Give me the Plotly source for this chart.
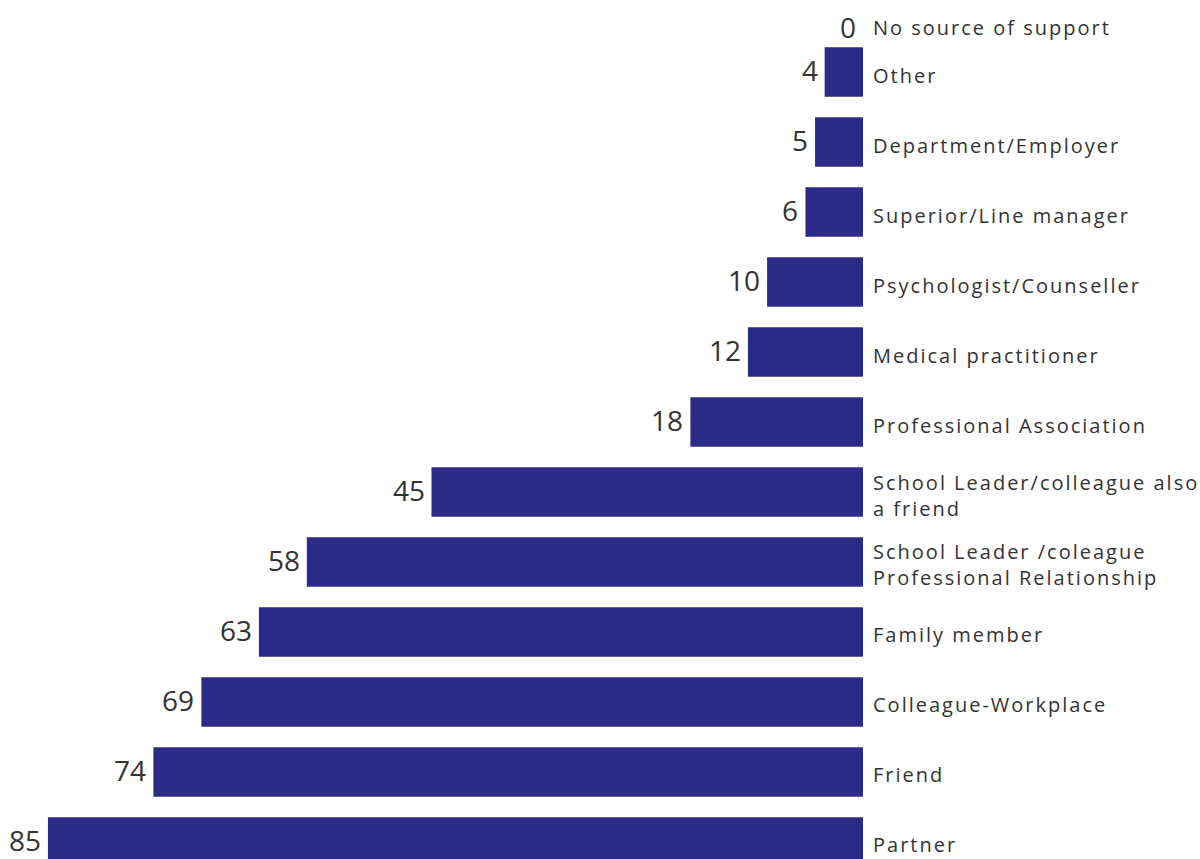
import plotly.graph_objects as go

categories = [
    "No source of support",
    "Other",
    "Department/Employer",
    "Superior/Line manager",
    "Psychologist/Counseller",
    "Medical practitioner",
    "Professional Association",
    "School Leader/colleague also<br>a friend",
    "School Leader /coleague<br>Professional Relationship",
    "Family member",
    "Colleague-Workplace",
    "Friend",
    "Partner",
]
values = [0, 4, 5, 6, 10, 12, 18, 45, 58, 63, 69, 74, 85]

BAR = "#2B2A86"
TXT = "#333333"
FONT = "Open Sans"

fig = go.Figure()
fig.add_trace(go.Bar(
    x=values, y=categories, orientation="h",
    marker=dict(color=BAR, line=dict(width=0)),
    width=0.71, hoverinfo="skip", cliponaxis=False,
))

annotations = []
for i, (c, v) in enumerate(zip(categories, values)):
    ys = -25 if i == 0 else -3
    spaced = "<br>".join('<span style="letter-spacing:2px">' + part + "</span>"
                         for part in c.split("<br>"))
    annotations.append(dict(
        x=0, y=c, xref="x", yref="y", text=spaced, showarrow=False,
        xanchor="left", yanchor="middle", align="left", xshift=8, yshift=ys,
        font=dict(family=FONT, size=20, color=TXT),
    ))
    annotations.append(dict(
        x=v, y=c, xref="x", yref="y", text=str(v), showarrow=False,
        xanchor="right", yanchor="middle", xshift=-5, yshift=(-25 if i == 0 else 2),
        font=dict(family=FONT, size=28, color=TXT),
    ))

fig.update_layout(
    width=1200, height=859,
    margin=dict(l=0, r=337, t=0, b=0),
    paper_bgcolor="white", plot_bgcolor="white",
    showlegend=False,
    annotations=annotations,
    xaxis=dict(range=[90, 0], visible=False, fixedrange=True),
    yaxis=dict(categoryorder="array", categoryarray=categories,
               range=[12.243, -0.0286], visible=False, fixedrange=True),
)

html = fig.to_html(full_html=True, config={"displayModeBar": False})
html = html.replace("<head>", "<head><style>html,body{margin:0;padding:0;overflow:hidden;}</style>", 1)
with open("out.html", "w", encoding="utf-8") as f:
    f.write(html)
